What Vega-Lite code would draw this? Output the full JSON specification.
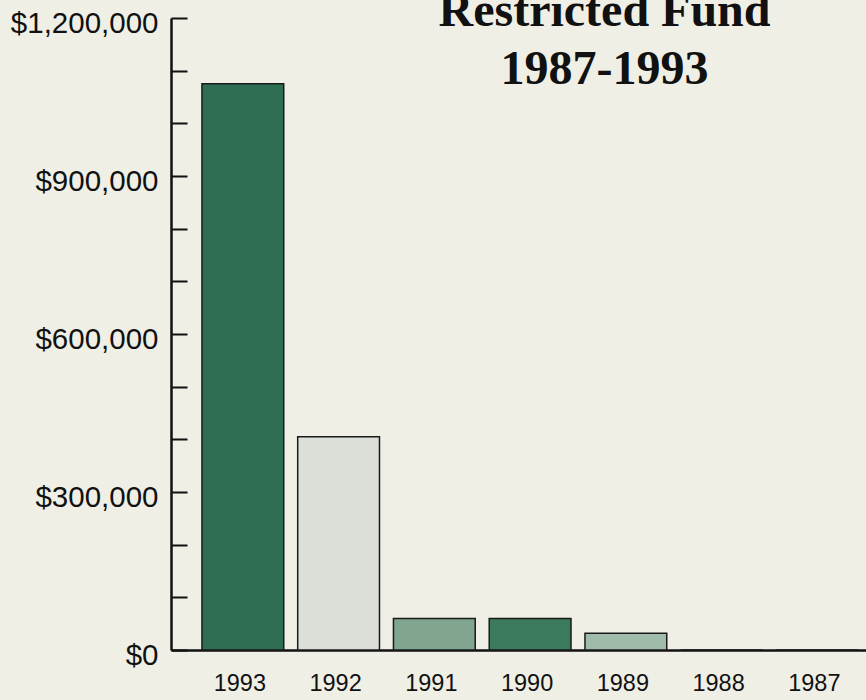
{
  "$schema": "https://vega.github.io/schema/vega-lite/v6.json",
  "width": 695,
  "height": 632,
  "autosize": {"type": "none"},
  "padding": {"left": 171, "top": 18, "right": 0, "bottom": 50},
  "background": "#efefe6",
  "title": {
    "text": ["Restricted Fund", "1987-1993"],
    "font": "Liberation Serif",
    "fontSize": 48,
    "fontWeight": "bold",
    "color": "#111111",
    "anchor": "middle",
    "frame": "group",
    "lineHeight": 58,
    "baseline": "alphabetic",
    "dx": 86,
    "dy": 124,
    "offset": 0
  },
  "data": {
    "values": [
      {"year": "1993", "amount": 1075000, "shade": "a"},
      {"year": "1992", "amount": 405000, "shade": "b"},
      {"year": "1991", "amount": 60000, "shade": "c"},
      {"year": "1990", "amount": 60000, "shade": "d"},
      {"year": "1989", "amount": 32000, "shade": "e"},
      {"year": "1988", "amount": 0, "shade": "e"},
      {"year": "1987", "amount": 0, "shade": "e"}
    ]
  },
  "mark": {"type": "bar", "stroke": "#1a1a1a", "strokeWidth": 1.5},
  "encoding": {
    "x": {
      "field": "year",
      "type": "nominal",
      "sort": null,
      "scale": {"paddingInner": 0.146, "paddingOuter": 0.202, "align": 0.8},
      "axis": {
        "title": null,
        "labelAngle": 0,
        "ticks": false,
        "domainColor": "#111111",
        "domainWidth": 2.5,
        "labelFont": "Liberation Sans",
        "labelFontSize": 23.5,
        "labelColor": "#111111",
        "labelPadding": 21,
        "labelOffset": -3
      }
    },
    "y": {
      "field": "amount",
      "type": "quantitative",
      "scale": {"domain": [0, 1200000], "nice": false},
      "axis": {
        "title": null,
        "grid": false,
        "values": [0, 100000, 200000, 300000, 400000, 500000, 600000, 700000, 800000, 900000, 1000000, 1100000, 1200000],
        "labelExpr": "datum.value % 300000 == 0 ? format(datum.value, '$,') : ''",
        "tickSize": -16,
        "tickWidth": 2,
        "tickColor": "#111111",
        "domainColor": "#111111",
        "domainWidth": 2.5,
        "labelFont": "Liberation Sans",
        "labelFontSize": 29.5,
        "labelColor": "#111111",
        "labelPadding": 29,
        "labelOffset": 5
      }
    },
    "fill": {
      "field": "shade",
      "type": "nominal",
      "legend": null,
      "scale": {
        "domain": ["a", "b", "c", "d", "e"],
        "range": ["#2f6e52", "#dcdfd8", "#80a690", "#3c7a5d", "#a0bba9"]
      }
    }
  },
  "config": {"view": {"stroke": null}}
}
